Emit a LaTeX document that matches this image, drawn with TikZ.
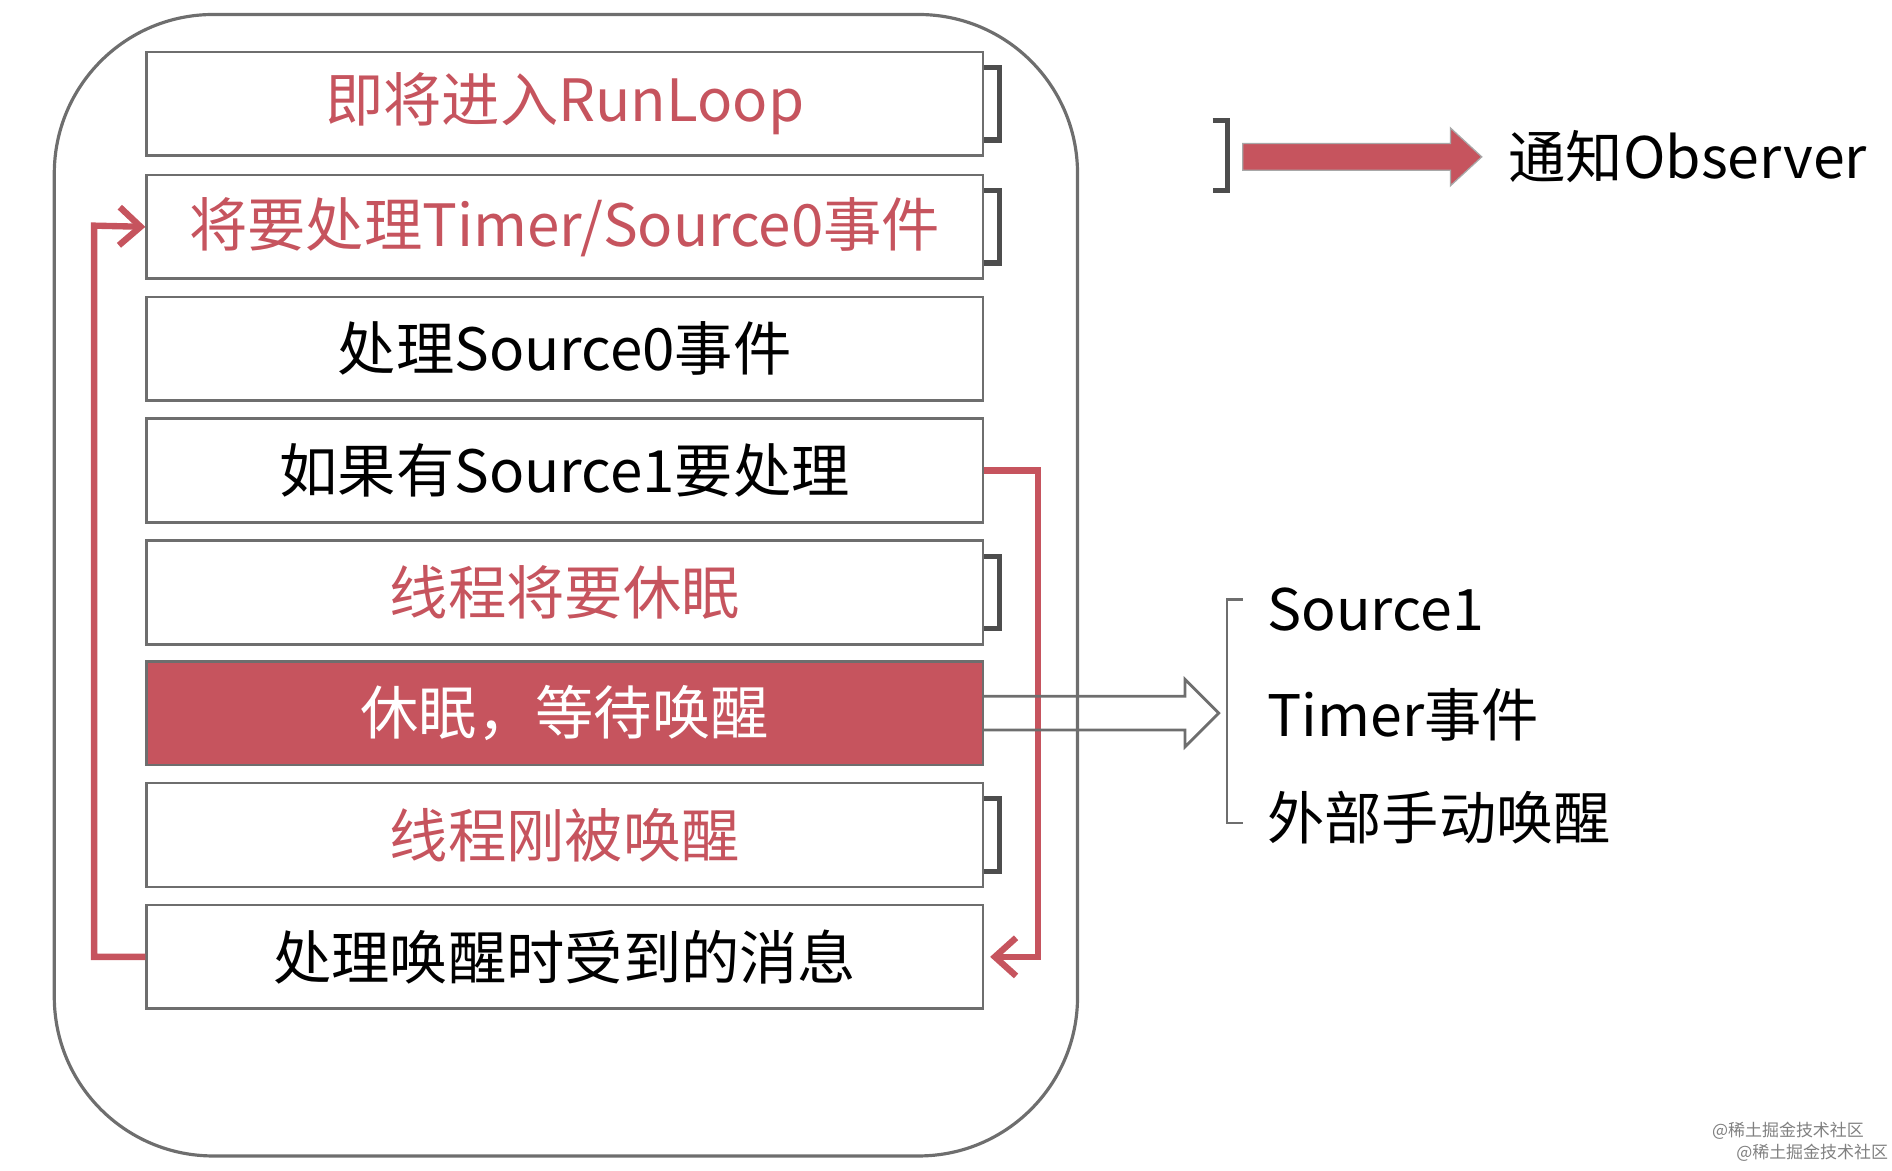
\documentclass[tikz,border=0pt]{standalone}
\usepackage{fontspec}
\setmainfont{Noto Sans CJK SC}
\usetikzlibrary{arrows.meta}
\definecolor{rr}{RGB}{198,84,94}
\definecolor{gr}{RGB}{110,110,110}
\begin{document}
\begin{tikzpicture}[x=0.02cm,y=-0.02cm,
 box/.style={draw=gr,line width=1.2pt,minimum width=693*0.02cm,minimum height=86*0.02cm,inner sep=0pt,font=\fontsize{27.5}{30}\selectfont},
 lab/.style={anchor=west,inner sep=0pt,font=\fontsize{27}{30}\selectfont},
 brk/.style={draw=gr!70!black,line width=2.5pt},
 red/.style={draw=rr,line width=3pt,-{Straight Barb[length=10pt,width=18pt,line width=3pt]}}]
\useasboundingbox (0,0) rectangle (1568,970);
\draw[gr,line width=1.5pt,rounded corners=75pt] (45,12) rectangle (893,958);
\foreach \n/\y/\c/\t in {b1/86/rr/{即将进入RunLoop},b2/188/rr/{将要处理Timer/Source0事件},b3/289/black/{处理Source0事件},b4/390/black/{如果有Source1要处理},b5/491/rr/{线程将要休眠},b7/692/rr/{线程刚被唤醒},b8/793/black/{处理唤醒时受到的消息}}
  \node[box,text=\c] (\n) at (468,\y) {\t};
\node[box,fill=rr,text=white] (b6) at (468,591) {休眠，等待唤醒};
\foreach \n in {b1,b2,b5,b7}
  \draw[brk] ([yshift=-14*0.02cm]\n.north east) -- ++(13,0) |- ([yshift=14*0.02cm]\n.south east);
\coordinate (l1) at (78,793); \coordinate (l2) at (78,187);
\draw[red] (b8.west) -- (l1) -- (l2) -- (b2.west);
\coordinate (r1) at (860,390); \coordinate (r2) at (860,793);
\draw[red] (b4.east) -- (r1) -- (r2) -- ([xshift=5*0.02cm]b8.east);
\draw[gr,line width=1.3pt] (815,577) -- (982,577) -- (982,563) -- (1010,591) -- (982,619) -- (982,605) -- (815,605);
\draw[gr,line width=1.2pt] (1030,497) -- (1017,497) -- (1017,682) -- (1030,682);
\node[lab] (s1) at (1050,505) {Source1};
\node[lab] (s2) at (1050,592) {Timer事件};
\node[lab] (s3) at (1050,678) {外部手动唤醒};
\draw[brk] (1005,100) -- (1017,100) -- (1017,158) -- (1005,158);
\fill[rr,draw=gr!60,line width=0.6pt] (1030,119) -- (1202,119) -- (1202,106) -- (1228,130) -- (1202,154) -- (1202,141) -- (1030,141) -- cycle;
\node[lab] (obs) at (1250,130) {通知Observer};
\node[anchor=east,inner sep=0pt,font=\fontsize{8}{9}\selectfont,text=gray] (w1) at (1545,937) {@稀土掘金技术社区};
\node[anchor=east,inner sep=0pt,font=\fontsize{8}{9}\selectfont,text=gray] (w2) at (1565,955) {@稀土掘金技术社区};
\end{tikzpicture}
\end{document}
